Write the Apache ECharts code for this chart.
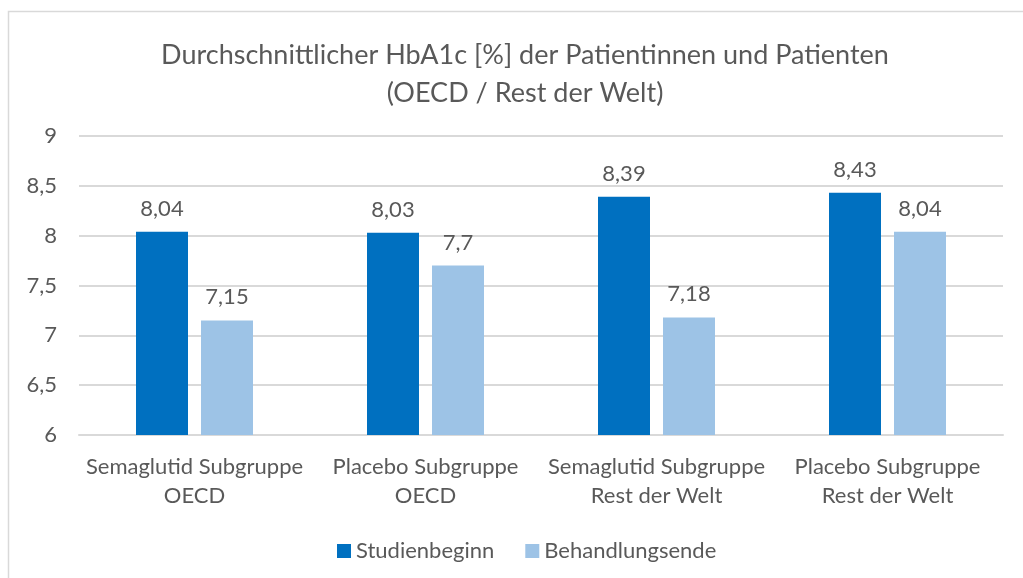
<!DOCTYPE html>
<html>
<head>
<meta charset="utf-8">
<script src="https://cdn.jsdelivr.net/npm/echarts@6/dist/echarts.min.js"></script>
<style>
  html, body { margin: 0; padding: 0; background: #fff; }
  #chart { width: 1023px; height: 578px; }
</style>
</head>
<body>
<div id="chart"></div>
<script>
const categories = [
  'Semaglutid Subgruppe\nOECD',
  'Placebo Subgruppe\nOECD',
  'Semaglutid Subgruppe\nRest der Welt',
  'Placebo Subgruppe\nRest der Welt'
];
const studienbeginn = [8.04, 8.03, 8.39, 8.43];
const behandlungsende = [7.15, 7.7, 7.18, 8.04];
const yTicks = [6, 6.5, 7, 7.5, 8, 8.5, 9];

const fontFam = 'Lato, "Open Sans", sans-serif';
const grey = '#595959';
const deComma = v => String(v).replace('.', ',');

const myChart = echarts.init(document.getElementById('chart'));
myChart.setOption({
  animation: false,
  textStyle: { fontFamily: fontFam },
  // chart frame, right and bottom edge fall outside the picture
  graphic: [{
    type: 'rect',
    shape: { x: 8.5, y: 11.5, width: 1100, height: 700 },
    style: { fill: 'none', stroke: '#d9d9d9', lineWidth: 1.5 },
    silent: true
  }],
  title: {
    text: 'Durchschnittlicher HbA1c [%] der Patientinnen und Patienten\n(OECD / Rest der Welt)',
    left: 520,
    top: 31,
    textAlign: 'center',
    textStyle: {
      color: grey,
      fontFamily: fontFam,
      fontWeight: 'normal',
      fontSize: 27,
      lineHeight: 38
    }
  },
  legend: {
    left: 332,
    top: 535,
    itemWidth: 14,
    itemHeight: 14,
    itemGap: 31,
    icon: 'rect',
    textStyle: { color: grey, fontSize: 22, fontFamily: fontFam },
    data: ['Studienbeginn', 'Behandlungsende']
  },
  grid: { left: 79, right: 20, top: 136, bottom: 143, containLabel: false },
  xAxis: {
    type: 'category',
    data: categories,
    axisTick: { show: false },
    axisLine: { lineStyle: { color: '#d9d9d9', width: 2 } },
    axisLabel: {
      interval: 0,
      color: grey,
      fontSize: 22,
      lineHeight: 29,
      margin: 17,
      fontFamily: fontFam
    }
  },
  yAxis: {
    type: 'value',
    min: yTicks[0],
    max: yTicks[yTicks.length - 1],
    interval: 0.5,
    axisLine: { show: false },
    axisTick: { show: false },
    splitLine: { lineStyle: { color: '#d9d9d9', width: 2 } },
    axisLabel: {
      color: grey,
      fontSize: 22,
      margin: 22,
      fontFamily: fontFam,
      formatter: deComma
    }
  },
  series: [
    {
      name: 'Studienbeginn',
      type: 'bar',
      data: studienbeginn,
      barWidth: 52,
      barGap: '25%',
      itemStyle: { color: '#0070c0' },
      label: {
        show: true,
        position: 'top',
        distance: 12,
        color: grey,
        fontSize: 22,
        fontFamily: fontFam,
        formatter: p => deComma(p.value)
      }
    },
    {
      name: 'Behandlungsende',
      type: 'bar',
      data: behandlungsende,
      barWidth: 52,
      itemStyle: { color: '#9dc3e6' },
      label: {
        show: true,
        position: 'top',
        distance: 12,
        color: grey,
        fontSize: 22,
        fontFamily: fontFam,
        formatter: p => deComma(p.value)
      }
    }
  ]
});
</script>
</body>
</html>
